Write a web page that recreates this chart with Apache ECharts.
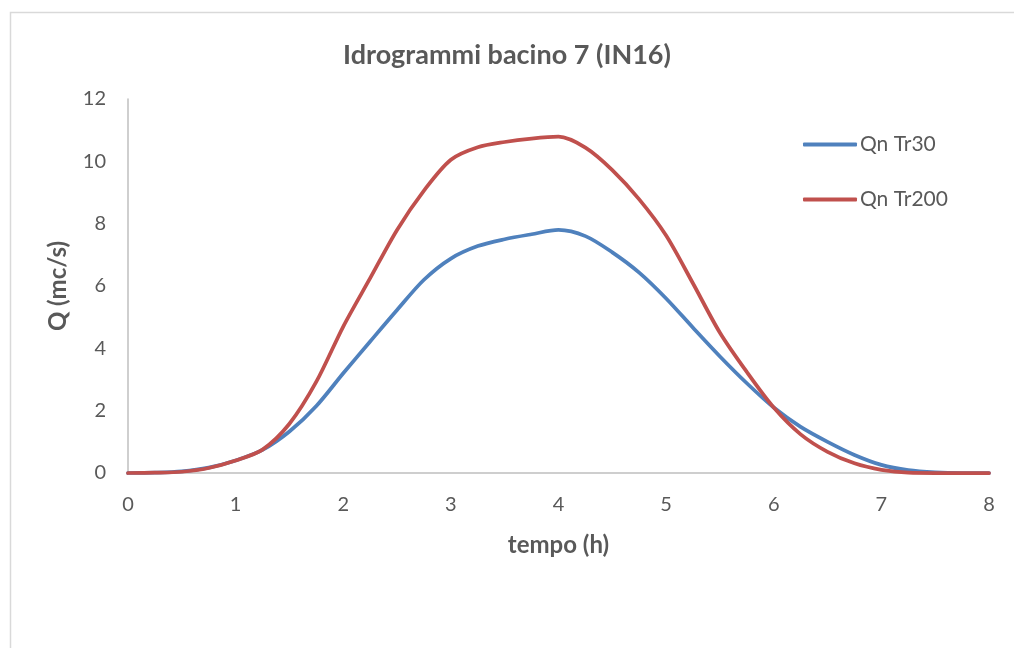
<!DOCTYPE html>
<html>
<head>
<meta charset="utf-8">
<script src="https://cdn.jsdelivr.net/npm/echarts@6/dist/echarts.min.js"></script>
<style>
  html, body { margin: 0; padding: 0; background: #ffffff; }
  #chart { width: 1014px; height: 648px; }
</style>
</head>
<body>
<div id="chart"></div>
<script>
// Time steps (hours)
const tempo = [0, 0.25, 0.5, 0.75, 1, 1.25, 1.5, 1.75, 2, 2.25, 2.5, 2.75, 3, 3.25, 3.5, 3.75,
               4, 4.25, 4.5, 4.75, 5, 5.25, 5.5, 5.75, 6, 6.25, 6.5, 6.75, 7, 7.25, 7.5, 7.75, 8];
// Discharge hydrographs (mc/s)
const qnTr30  = [0, 0.01, 0.05, 0.17, 0.4, 0.74, 1.33, 2.15, 3.2, 4.22, 5.23, 6.2, 6.88, 7.28, 7.5, 7.66,
                 7.8, 7.6, 7.08, 6.43, 5.6, 4.66, 3.74, 2.88, 2.1, 1.48, 1.0, 0.58, 0.26, 0.09, 0.02, 0, 0];
const qnTr200 = [0, 0.01, 0.04, 0.16, 0.4, 0.75, 1.58, 2.93, 4.7, 6.25, 7.8, 9.06, 10.05, 10.45, 10.62, 10.73,
                 10.79, 10.44, 9.72, 8.78, 7.62, 6.08, 4.5, 3.24, 2.1, 1.24, 0.68, 0.31, 0.1, 0.01, 0, 0, 0];
const seriesNames = ['Qn Tr30', 'Qn Tr200'];
const xTicks = [0, 1, 2, 3, 4, 5, 6, 7, 8];
const yTicks = [0, 2, 4, 6, 8, 10, 12];

const FONT = 'Lato, "Noto Sans", sans-serif';
const TXT = '#595959';
const COLORS = ['#4F81BD', '#C0504D'];

const pairs = (xs, ys) => xs.map((x, i) => [x, ys[i]]);

const chart = echarts.init(document.getElementById('chart'), null, { renderer: 'canvas' });
chart.setOption({
  backgroundColor: '#ffffff',
  animation: false,
  graphic: [{
    type: 'rect',
    left: 8, top: 10,
    shape: { width: 1100, height: 700 },
    style: { fill: 'none', stroke: '#D9D9D9', lineWidth: 1.5 },
    silent: true
  }],
  title: {
    text: 'Idrogrammi bacino 7 (IN16)',
    left: 'center',
    top: 37,
    textStyle: { fontFamily: FONT, fontWeight: 'bold', fontSize: 27, color: TXT }
  },
  legend: {
    orient: 'vertical',
    left: 798,
    top: 129,
    icon: 'roundRect',
    itemWidth: 54,
    itemHeight: 4,
    itemGap: 34,
    textStyle: { fontFamily: FONT, fontSize: 21, color: TXT, padding: [0, 0, 0, -2] },
    data: seriesNames
  },
  grid: { left: 128, right: 25, top: 99, bottom: 175, containLabel: false },
  xAxis: {
    type: 'value',
    min: xTicks[0],
    max: xTicks[xTicks.length - 1],
    interval: 1,
    name: 'tempo (h)',
    nameLocation: 'middle',
    nameGap: 60,
    nameTextStyle: { fontFamily: FONT, fontWeight: 'bold', fontSize: 24, color: TXT },
    axisLine: { lineStyle: { color: '#BFBFBF', width: 1.5 } },
    axisTick: { show: false },
    splitLine: { show: false },
    axisLabel: { fontFamily: FONT, fontSize: 20, color: TXT, margin: 22 }
  },
  yAxis: {
    type: 'value',
    min: yTicks[0],
    max: yTicks[yTicks.length - 1],
    interval: 2,
    name: 'Q (mc/s)',
    nameLocation: 'middle',
    nameGap: 58,
    nameRotate: 90,
    nameTextStyle: { fontFamily: FONT, fontWeight: 'bold', fontSize: 24, color: TXT },
    axisLine: { show: true, lineStyle: { color: '#BFBFBF', width: 1.5 } },
    axisTick: { show: false },
    splitLine: { show: false },
    axisLabel: { fontFamily: FONT, fontSize: 20, color: TXT, margin: 22 }
  },
  series: [
    {
      name: seriesNames[0],
      type: 'line',
      data: pairs(tempo, qnTr30),
      smooth: 0.3,
      symbol: 'none',
      lineStyle: { color: COLORS[0], width: 3.75, cap: 'round', join: 'round' },
      itemStyle: { color: COLORS[0] }
    },
    {
      name: seriesNames[1],
      type: 'line',
      data: pairs(tempo, qnTr200),
      smooth: 0.3,
      symbol: 'none',
      lineStyle: { color: COLORS[1], width: 3.75, cap: 'round', join: 'round' },
      itemStyle: { color: COLORS[1] }
    }
  ]
});
</script>
</body>
</html>
